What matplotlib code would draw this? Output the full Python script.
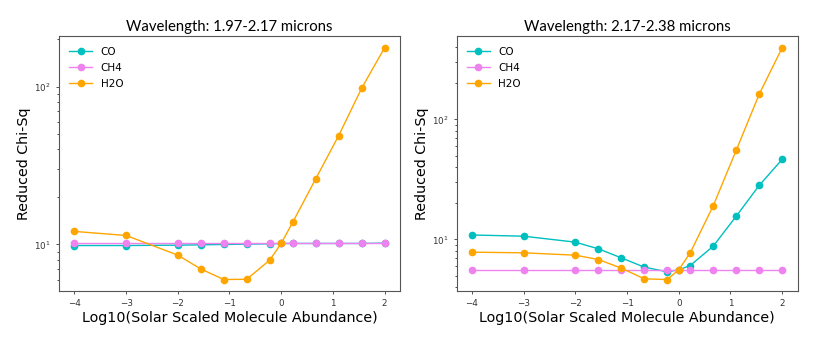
import matplotlib
matplotlib.use('Agg')
import matplotlib.pyplot as plt

# log10 abundance grid (same for both panels)
x = [-4, -3, -2, -1.556, -1.111, -0.667, -0.222, 0, 0.222, 0.667, 1.111, 1.556, 2]

# panel 1: 1.97-2.17 microns
co_1  = [9.85, 9.85, 9.9, 9.95, 10.0, 10.05, 10.1, 10.15, 10.15, 10.15, 10.15, 10.15, 10.2]
ch4_1 = [10.15, 10.15, 10.15, 10.15, 10.15, 10.15, 10.15, 10.15, 10.15, 10.15, 10.15, 10.15, 10.15]
h2o_1 = [12.1, 11.4, 8.56, 7.0, 6.0, 6.02, 7.96, 10.15, 13.8, 26.0, 48.8, 97.5, 176.0]

# panel 2: 2.17-2.38 microns
co_2  = [10.9, 10.65, 9.5, 8.36, 7.03, 5.88, 5.38, 5.59, 6.07, 8.8, 15.6, 28.2, 46.4]
ch4_2 = [5.59, 5.59, 5.59, 5.59, 5.59, 5.59, 5.59, 5.59, 5.59, 5.59, 5.59, 5.59, 5.59]
h2o_2 = [7.84, 7.74, 7.4, 6.81, 5.77, 4.7, 4.64, 5.59, 7.74, 19.1, 55.2, 162.0, 395.0]

titles = ['Wavelength: 1.97-2.17 microns', 'Wavelength: 2.17-2.38 microns']
panels = [(co_1, ch4_1, h2o_1), (co_2, ch4_2, h2o_2)]

fig = plt.figure(figsize=(8.3, 3.55), dpi=100)
positions = [[0.071, 0.180, 0.411, 0.718], [0.550, 0.180, 0.411, 0.718]]

for pos, title, (co, ch4, h2o) in zip(positions, titles, panels):
    ax = fig.add_axes(pos)
    ax.plot(x, co, 'o-', color='c', lw=1.0, markersize=4.5, label='CO')
    ax.plot(x, ch4, 'o-', color='violet', lw=1.0, markersize=4.5, label='CH4')
    ax.plot(x, h2o, 'o-', color='orange', lw=1.0, markersize=4.5, label='H2O')
    ax.set_yscale('log')
    ax.set_xticks([-4, -3, -2, -1, 0, 1, 2])
    ax.tick_params(labelsize=6.3, colors='#333333', length=2.5, width=0.6)
    ax.tick_params(which='minor', length=1.5, width=0.5)
    ax.set_xlabel('Log10(Solar Scaled Molecule Abundance)', fontsize=10.3, labelpad=2)
    ax.set_ylabel('Reduced Chi-Sq', fontsize=10.3, labelpad=2)
    ax.set_title(title, fontsize=10.7, family=['Lato', 'DejaVu Sans'], pad=4)
    for sp in ax.spines.values():
        sp.set_color('#555555')
        sp.set_linewidth(0.8)
    ax.legend(loc='upper left', frameon=False, fontsize=7.5, handlelength=2.2,
              labelspacing=0.6, borderaxespad=0.6)

fig.savefig('out.png', dpi=100)
